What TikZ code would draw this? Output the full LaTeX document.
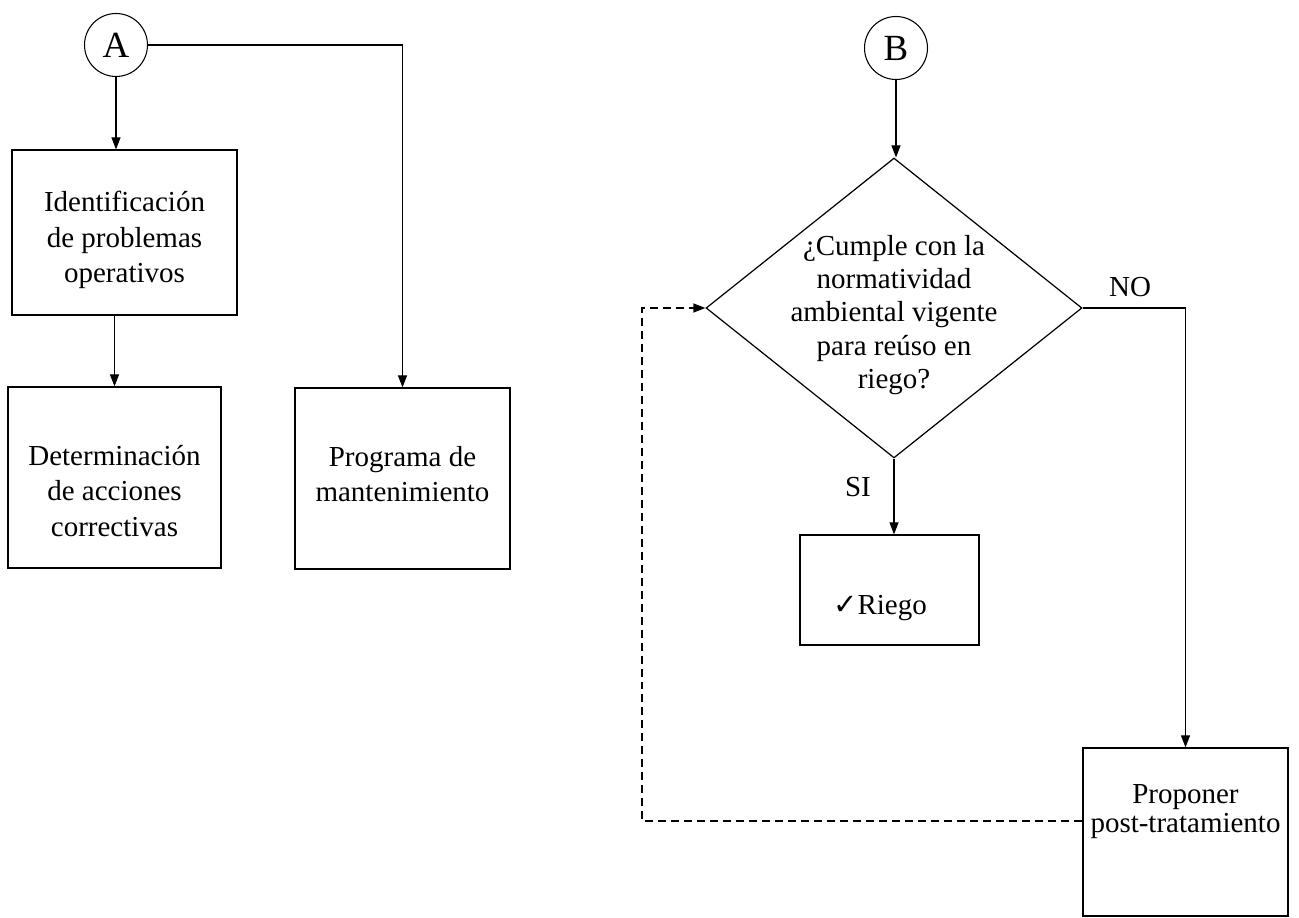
\documentclass[tikz,border=0pt]{standalone}
\usepackage{fontspec}
\setmainfont{Liberation Serif}
\newfontfamily\simbolos{DejaVu Sans}
\usepackage{tikz}
\usetikzlibrary{arrows.meta,shapes.geometric}
\tikzset{
	caja/.style={draw, line width=0.7pt, inner sep=0pt},
	rombo/.style={draw, diamond, line width=0.7pt, inner sep=0pt},
	conector/.style={draw, circle, line width=0.6pt, inner sep=0pt, minimum size=1.26cm, font=\fontsize{21}{24}\selectfont},
	texto/.style={align=center, inner sep=0pt, font=\fontsize{16.5}{20}\selectfont},
	flecha/.style={line width=0.6pt, -{Triangle[length=0.24cm, width=0.18cm]}},
	regreso/.style={dashed, dash pattern=on 0.16cm off 0.1cm, line width=0.8pt, -{Triangle[length=0.24cm, width=0.18cm]}}
}

\begin{document}
\begin{tikzpicture}[x=0.02cm, y=-0.02cm]
			%%%%% START %%%%%
			\useasboundingbox (0, 0) rectangle (1299, 918);
			
			% lado A
			\node[conector] (A) at (116, 45) {A};
			\node[caja, minimum width=4.5cm, minimum height=3.3cm] (problemas) at (124.5, 232.5) {};
			\node[texto] (problemastxt) at (124.5, 240) {Identificación\\de problemas\\operativos};
			\node[caja, minimum width=4.26cm, minimum height=3.62cm] (acciones) at (114.5, 477.5) {};
			\node[texto] (accionestxt) at (114.5, 491) {Determinación\\de acciones\\correctivas};
			\node[caja, minimum width=4.3cm, minimum height=3.62cm] (mantenimiento) at (402.5, 478.5) {};
			\node[texto] (mantenimientotxt) at (402.5, 474) {Programa de\\mantenimiento};
			
			\draw[flecha] (A.south) -- (A.south |- problemas.north);
			\draw[flecha] (acciones.north |- problemas.south) -- (acciones.north);
			\draw[flecha] (A.east) -| (mantenimiento.north);
			
			% lado B
			\node[conector] (B) at (896, 48) {B};
			\node[rombo, minimum width=7.52cm, minimum height=6cm] (norma) at (894, 308) {};
			\node[texto, font=\fontsize{16.5}{19}\selectfont] (normatxt) at (894, 315) {¿Cumple con la\\normatividad\\ambiental vigente\\para reúso en\\riego?};
			\node[caja, minimum width=3.58cm, minimum height=2.2cm] (riego) at (889.5, 590) {};
			\node[texto] (riegotxt) at (880, 608) {{\simbolos ✓}Riego};
			\node[caja, minimum width=4.1cm, minimum height=3.36cm] (posttrat) at (1185.5, 832) {};
			\node[texto, font=\fontsize{16.5}{16.5}\selectfont] (posttrattxt) at (1185.5, 812) {Proponer\\post-tratamiento};
			
			\node[texto] (si) at (858, 487) {SI};
			\node[texto] (no) at (1130, 287) {NO};
			
			\draw[flecha] (B.south) -- (B.south |- norma.north);
			\draw[flecha] (norma.south) -- (norma.south |- riego.north);
			\draw[flecha] (norma.east) -| (posttrat.north);
			
			\coordinate (esquinab) at (642, 821);
			\coordinate (esquinaa) at (642, 308);
			\draw[regreso] (esquinab -| posttrat.west) -- (esquinab) -- (esquinaa) -- (norma.west);
			%%%%% END %%%%%
\end{tikzpicture}
\end{document}
